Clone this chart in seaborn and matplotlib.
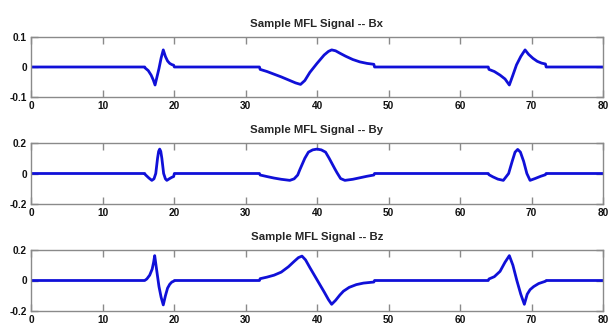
import matplotlib
matplotlib.use("Agg")
import matplotlib.pyplot as plt
import seaborn as sns
import pandas as pd

# ---------------- data ----------------
titles = ["Sample MFL Signal -- Bx", "Sample MFL Signal -- By", "Sample MFL Signal -- Bz"]

bx_x = [0, 15.9, 16.0, 16.4, 16.8, 17.1, 17.35, 17.6, 17.9, 18.2, 18.5, 18.8, 19.1, 19.4, 19.7, 19.95, 20.05,
        31.95, 32.05, 33, 34, 35, 36, 37, 37.7, 38.3, 39, 40, 41, 41.6, 42.05, 42.6, 43.2, 44, 45, 46, 47, 47.95, 48.05,
        63.95, 64.05, 64.8, 65.6, 66.3, 66.9, 67.4, 67.9, 68.5, 69.1, 69.6, 70.2, 70.8, 71.4, 71.95, 72.05, 80]
bx_y = [0, 0, -0.004, -0.012, -0.027, -0.043, -0.06, -0.035, -0.005, 0.03, 0.057, 0.035, 0.02, 0.012, 0.008, 0.006, 0,
        0, -0.008, -0.015, -0.024, -0.033, -0.043, -0.053, -0.058, -0.045, -0.018, 0.012, 0.04, 0.052, 0.057, 0.054, 0.046, 0.036, 0.025, 0.017, 0.012, 0.009, 0,
        0, -0.008, -0.015, -0.027, -0.04, -0.06, -0.027, 0.007, 0.035, 0.057, 0.042, 0.029, 0.019, 0.013, 0.01, 0, 0]

by_x = [0, 15.9, 16.0, 16.5, 16.9, 17.2, 17.45, 17.7, 17.85, 18.0, 18.15, 18.3, 18.55, 18.8, 19.0, 19.4, 19.7, 19.95, 20.05,
        31.95, 32.05, 33, 34, 35, 36.2, 36.8, 37.3, 37.6, 38.3, 38.8, 39.4, 40.0, 40.6, 41.2, 41.7, 42.5, 42.8, 43.3, 43.9, 45, 46, 47, 47.95, 48.05,
        63.95, 64.05, 64.6, 65.3, 66.06, 66.8, 67.3, 67.7, 68.07, 68.45, 68.9, 69.35, 69.8, 70.5, 71.3, 71.95, 72.05, 80]
by_y = [0, 0, -0.008, -0.03, -0.045, -0.035, 0.0, 0.1, 0.145, 0.16, 0.145, 0.1, 0.0, -0.035, -0.045, -0.033, -0.025, -0.02, 0,
        0, -0.01, -0.02, -0.03, -0.038, -0.045, -0.035, -0.01, 0.025, 0.1, 0.14, 0.155, 0.16, 0.155, 0.14, 0.1, 0.03, 0.005, -0.033, -0.045, -0.038, -0.028, -0.018, -0.01, 0,
        0, -0.008, -0.022, -0.037, -0.045, 0.0, 0.08, 0.14, 0.158, 0.14, 0.08, 0.0, -0.045, -0.033, -0.018, -0.008, 0, 0]

bz_x = [0, 15.9, 16.2, 16.6, 16.95, 17.15, 17.3, 17.6, 17.9, 18.2, 18.5, 18.8, 19.1, 19.4, 19.7, 19.95, 20.05,
        31.95, 32.05, 33, 34, 35, 36, 36.8, 37.4, 37.9, 38.4, 39, 40, 41, 41.6, 42.05, 42.6, 43.2, 43.7, 44.5, 45.5, 46.5, 47.95, 48.05,
        63.95, 64.05, 64.8, 65.6, 66.3, 66.9, 67.4, 67.95, 68.5, 69.0, 69.4, 69.8, 70.3, 71.0, 71.95, 72.05, 80]
bz_y = [0, 0, 0.01, 0.035, 0.075, 0.12, 0.163, 0.06, -0.04, -0.11, -0.16, -0.1, -0.05, -0.025, -0.01, -0.005, 0,
        0, 0.012, 0.022, 0.035, 0.055, 0.09, 0.125, 0.15, 0.16, 0.135, 0.085, 0.005, -0.075, -0.125, -0.156, -0.13, -0.095, -0.07, -0.045, -0.027, -0.017, -0.01, 0,
        0, 0.01, 0.025, 0.06, 0.12, 0.163, 0.1, 0.0, -0.09, -0.156, -0.09, -0.06, -0.04, -0.02, -0.005, 0, 0]

x_ticks = [0, 10, 20, 30, 40, 50, 60, 70, 80]
y_ticks = [[-0.1, 0, 0.1], [-0.2, 0, 0.2], [-0.2, 0, 0.2]]
y_tick_labels = [["-0.1", "0", "0.1"], ["-0.2", "0", "0.2"], ["-0.2", "0", "0.2"]]
y_limits = [(-0.1, 0.1), (-0.2, 0.2), (-0.2, 0.2)]

series = [(bx_x, bx_y), (by_x, by_y), (bz_x, bz_y)]

# ---------------- styling ----------------
sns.set_style("white")
plt.rcParams["font.family"] = ["Liberation Sans Narrow", "Liberation Sans", "DejaVu Sans"]
plt.rcParams["font.weight"] = "bold"
plt.rcParams["axes.unicode_minus"] = False

W, H = 616, 326
fig = plt.figure(figsize=(W / 100, H / 100), dpi=100)

# axes boxes in pixels: (left, top, right, bottom)
boxes = [(31, 37, 603, 97), (31, 143, 603, 204), (31, 250, 603, 311)]
line_color = "#1010d8"
spine_color = "#8a8a8a"

for i, ((xs, ys), box) in enumerate(zip(series, boxes)):
    l, t, r, b = box
    ax = fig.add_axes([l / W, 1 - b / H, (r - l) / W, (b - t) / H])
    df = pd.DataFrame({"x": xs, "y": ys})
    sns.lineplot(data=df, x="x", y="y", ax=ax, color=line_color, linewidth=2.0, sort=False, estimator=None)
    ax.set_xlim(0, 80)
    ax.set_ylim(*y_limits[i])
    ax.set_xticks(x_ticks)
    ax.set_xticklabels([str(v) for v in x_ticks])
    ax.set_yticks(y_ticks[i])
    ax.set_yticklabels(y_tick_labels[i])
    ax.set_xlabel("")
    ax.set_ylabel("")
    ax.set_title(titles[i], fontsize=8.2, fontweight="bold", pad=7)
    for s in ax.spines.values():
        s.set_visible(True)
        s.set_color(spine_color)
        s.set_linewidth(1.0)
    ax.tick_params(axis="both", direction="in", length=5, width=1.0, color=spine_color,
                   labelsize=7.3, top=True, right=True, bottom=True, left=True, pad=3,
                   labelcolor="#111111")
    for lab in ax.get_xticklabels() + ax.get_yticklabels():
        lab.set_fontweight("bold")

fig.savefig("out.png", dpi=100)
